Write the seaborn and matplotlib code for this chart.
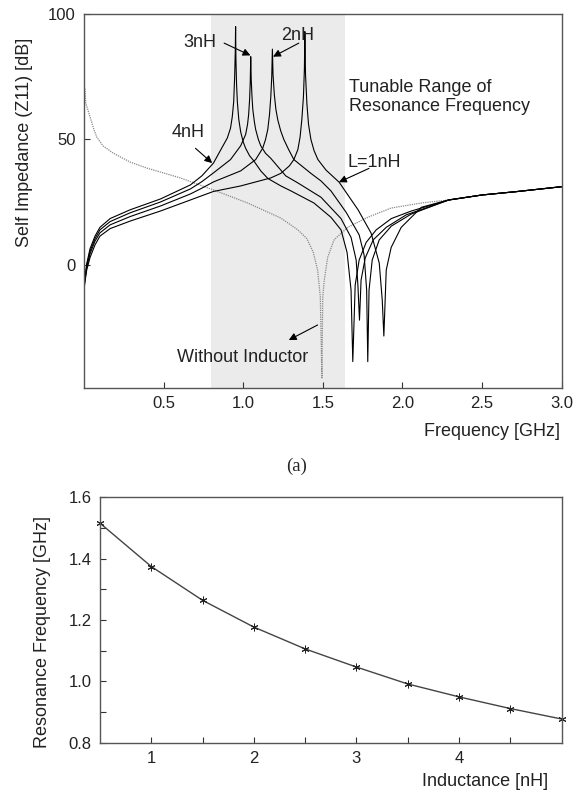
import numpy as np
import pandas as pd
import matplotlib
matplotlib.use("Agg")
import matplotlib.pyplot as plt
import seaborn as sns

# ---- (a) self impedance vs frequency ----
tail_f = [2.29, 2.5, 2.71, 3.0]
tail_db = [25.9, 27.9, 29.2, 31.2]

no_ind_f = [0.0, 0.006, 0.011, 0.038, 0.059, 0.08, 0.12, 0.183, 0.29, 0.395,
            0.605, 0.813, 1.028, 1.236, 1.343, 1.4, 1.44, 1.467, 1.484, 1.488,
            1.494, 1.499, 1.509, 1.53, 1.57, 1.656, 1.782, 1.929, 2.119]
no_ind_db = [71, 70.5, 64.5, 59, 54.6, 51, 47.4, 44.6, 41, 38.6,
             34.7, 29.9, 24.7, 18.7, 14, 10.5, 5, -2, -12.7, -26,
             -45, -13, -6, 3, 10, 15, 19, 22.7, 24.7]

low_f = [0.0, 0.004, 0.017, 0.038, 0.069, 0.1, 0.164, 0.29, 0.48, 0.668, 0.74]

l4_f = low_f + [0.813, 0.858, 0.9, 0.92, 0.931, 0.94, 0.946, 0.95, 0.952, 0.954,
                0.958, 0.963, 0.972, 0.984, 1.0, 1.015, 1.04, 1.066, 1.11, 1.154,
                1.236, 1.3, 1.444, 1.551, 1.614, 1.652, 1.677, 1.688, 1.703, 1.728,
                1.772, 1.835, 1.93, 2.055]
l4_db = [-10.5, -6, 0.5, 6.5, 11.5, 15, 18.5, 22, 26.3, 31.9, 35.5,
         40.6, 45.8, 50.6, 54.5, 59, 65, 75, 85, 95, 82,
         72, 65, 58, 53, 49, 46.5, 43.5, 41.5, 37.5, 34.5,
         31.5, 29.5, 24.7, 19, 14, 5, -10, -38.5, -8, 2,
         9, 14, 18.5, 21.5]

l3_f = low_f + [0.813, 0.92, 0.984, 1.015, 1.027, 1.034, 1.04, 1.044, 1.047, 1.05,
                1.055, 1.06, 1.07, 1.078, 1.095, 1.11, 1.14, 1.173, 1.267, 1.343,
                1.488, 1.614, 1.677, 1.709, 1.72, 1.73, 1.74, 1.766, 1.816, 1.898,
                2.024]
l3_db = [-10.5, -6.5, -0.3, 5.5, 10.5, 14, 17.3, 20.8, 25.1, 30.3, 33.2,
         36.7, 42, 47.5, 52, 56, 60, 66, 73, 83, 74,
         67, 62, 57, 54, 50, 47.5, 44.5, 42.5, 35.5, 32.7,
         27, 18.5, 11, 2, -8, -22, -6, 2.8, 10, 15,
         20]

l2_f = low_f + [0.813, 0.984, 1.078, 1.122, 1.14, 1.154, 1.165, 1.173, 1.179, 1.183,
                1.187, 1.195, 1.205, 1.217, 1.235, 1.255, 1.285, 1.318, 1.425, 1.488,
                1.551, 1.646, 1.728, 1.759, 1.775, 1.782, 1.79, 1.81, 1.854, 1.93,
                2.055]
l2_db = [-10.5, -7, -1, 4.5, 9.5, 12.8, 16, 19.3, 23.5, 28.3, 30.6,
         33.1, 37.5, 42, 46.5, 50, 54, 60, 67, 75, 86,
         76, 68, 62, 57.8, 53.5, 50, 46, 42, 36.5, 33.5,
         29.5, 21, 12, 4, -10, -38.5, -10, 2, 10, 15.5,
         20.3]

l1_f = low_f + [0.813, 0.984, 1.173, 1.236, 1.29, 1.318, 1.343, 1.357, 1.368, 1.378,
                1.384, 1.387, 1.391, 1.4, 1.41, 1.425, 1.445, 1.469, 1.52, 1.602,
                1.721, 1.803, 1.854, 1.873, 1.883, 1.898, 1.929, 1.992, 2.119]
l1_db = [-10.5, -7.5, -2, 3, 8, 11.5, 14.5, 17.5, 21.5, 25.9, 27.6,
         29.3, 31.5, 34.7, 36.5, 39.5, 42, 46, 51, 58, 67,
         78, 93, 76, 64, 56, 50, 45.5, 42, 37.8, 33,
         22, 12.7, 0.8, -14, -28.3, -2, 7, 15, 23]

curves = {
    "Without Inductor": (no_ind_f, no_ind_db),
    "4nH": (l4_f, l4_db),
    "3nH": (l3_f, l3_db),
    "2nH": (l2_f, l2_db),
    "1nH": (l1_f, l1_db),
}

freq_ticks = [0.5, 1.0, 1.5, 2.0, 2.5, 3.0]
z_ticks = [0, 50, 100]
tunable_range = (0.8, 1.64)

# ---- (b) resonance frequency vs inductance ----
inductance = [0.5, 1.0, 1.5, 2.0, 2.5, 3.0, 3.5, 4.0, 4.5, 5.0]
res_freq = [1.515, 1.374, 1.264, 1.177, 1.106, 1.047, 0.992, 0.950, 0.912, 0.878]
ind_ticks = [1, 2, 3, 4]
ind_minor = [1.5, 2.5, 3.5, 4.5]
rf_ticks = [0.8, 0.9, 1.0, 1.1, 1.2, 1.3, 1.4, 1.5, 1.6]
rf_labels = ["0.8", "", "1.0", "", "1.2", "", "1.4", "", "1.6"]

rows = []
for name, (f, db) in curves.items():
    rows.append(pd.DataFrame({"freq": f + tail_f, "z": db + tail_db, "curve": name}))
df_a = pd.concat(rows, ignore_index=True)
df_b = pd.DataFrame({"L": inductance, "f0": res_freq})

sns.set_style("ticks")
plt.rcParams["font.family"] = ["Liberation Sans", "DejaVu Sans"]

fig = plt.figure(figsize=(5.85, 7.96), dpi=100)
ax1 = fig.add_axes([0.1436, 0.5126, 0.8166, 0.4698])
ax2 = fig.add_axes([0.1709, 0.0666, 0.7891, 0.3090])

tick_kw = dict(direction="in", length=4, width=0.8, labelsize=12, colors="#333",
               labelcolor="#222")

# --- top panel
ax1.axvspan(*tunable_range, color="#ebebeb", lw=0, zorder=0)
for name in curves:
    sub = df_a[df_a["curve"] == name]
    if name == "Without Inductor":
        sns.lineplot(data=sub, x="freq", y="z", ax=ax1, estimator=None, sort=False,
                     color="#8a8a8a", lw=0.9, linestyle=(0, (1, 0.8)))
    else:
        sns.lineplot(data=sub, x="freq", y="z", ax=ax1, estimator=None, sort=False,
                     color="black", lw=0.8)
ax1.set_xlim(0, 3.0)
ax1.set_ylim(-49, 100)
ax1.set_xticks(freq_ticks)
ax1.set_xticklabels([f"{t:.1f}" for t in freq_ticks])
ax1.set_yticks(z_ticks)
ax1.tick_params(pad=6, **tick_kw)
ax1.set_xlabel("")
ax1.set_ylabel("")

arrow = dict(arrowstyle="-|>", color="black", lw=0.8, mutation_scale=11,
             shrinkA=0, shrinkB=0)
fs = 13
ax1.text(0.725, 88.8, "3nH", fontsize=fs, ha="center", va="center", color="#222")
ax1.annotate("", xy=(1.045, 83.5), xytext=(0.88, 88.4), arrowprops=arrow)
ax1.text(1.34, 91.6, "2nH", fontsize=fs, ha="center", va="center", color="#222")
ax1.annotate("", xy=(1.187, 83.0), xytext=(1.349, 88.4), arrowprops=arrow)
ax1.text(0.656, 52.6, "4nH", fontsize=fs, ha="center", va="center", color="#222")
ax1.annotate("", xy=(0.805, 40.6), xytext=(0.70, 46.5), arrowprops=arrow)
ax1.text(1.82, 41.0, "L=1nH", fontsize=fs, ha="center", va="center", color="#222")
ax1.annotate("", xy=(1.601, 33.0), xytext=(1.79, 38.5), arrowprops=arrow)
ax1.text(1.665, 67.0, "Tunable Range of\nResonance Frequency", fontsize=fs,
         ha="left", va="center", linespacing=1.15, color="#222")
ax1.text(0.993, -36.7, "Without Inductor", fontsize=fs, ha="center", va="center",
         color="#222")
ax1.annotate("", xy=(1.286, -29.9), xytext=(1.467, -23.9), arrowprops=arrow)

# --- bottom panel
sns.lineplot(data=df_b, x="L", y="f0", ax=ax2, color="#444", lw=1.0,
             marker=(6, 2, 0), markersize=5.5, markeredgecolor="#222",
             markeredgewidth=0.7, clip_on=False)
ax2.set_xlim(0.5, 5.0)
ax2.set_ylim(0.8, 1.6)
ax2.set_xticks(ind_ticks)
ax2.set_xticks(ind_minor, minor=True)
ax2.set_yticks(rf_ticks)
ax2.set_yticklabels(rf_labels)
ax2.tick_params(pad=6, **tick_kw)
ax2.tick_params(which="minor", direction="in", length=4, width=0.8, colors="#333")
ax2.set_xlabel("")
ax2.set_ylabel("")

for ax in (ax1, ax2):
    for s in ax.spines.values():
        s.set_color("#555")
        s.set_linewidth(1.0)

fig.text(25 / 585, 1 - 142 / 796, "Self Impedance (Z11) [dB]", rotation=90,
         fontsize=13, ha="center", va="center", color="#222")
fig.text(560 / 585, 1 - 432 / 796, "Frequency [GHz]", fontsize=13,
         ha="right", va="center", color="#222")
fig.text(296.6 / 585, 1 - 466.7 / 796, "(a)", fontsize=13.5,
         family=["Liberation Serif", "DejaVu Serif"], ha="center", va="center")
fig.text(43 / 585, 1 - 632 / 796, "Resonance Frequency [GHz]", rotation=90,
         fontsize=13, ha="center", va="center", color="#222")
fig.text(548 / 585, 1 - 782 / 796, "Inductance [nH]", fontsize=13,
         ha="right", va="center", color="#222")

fig.savefig("out.png", dpi=100)
